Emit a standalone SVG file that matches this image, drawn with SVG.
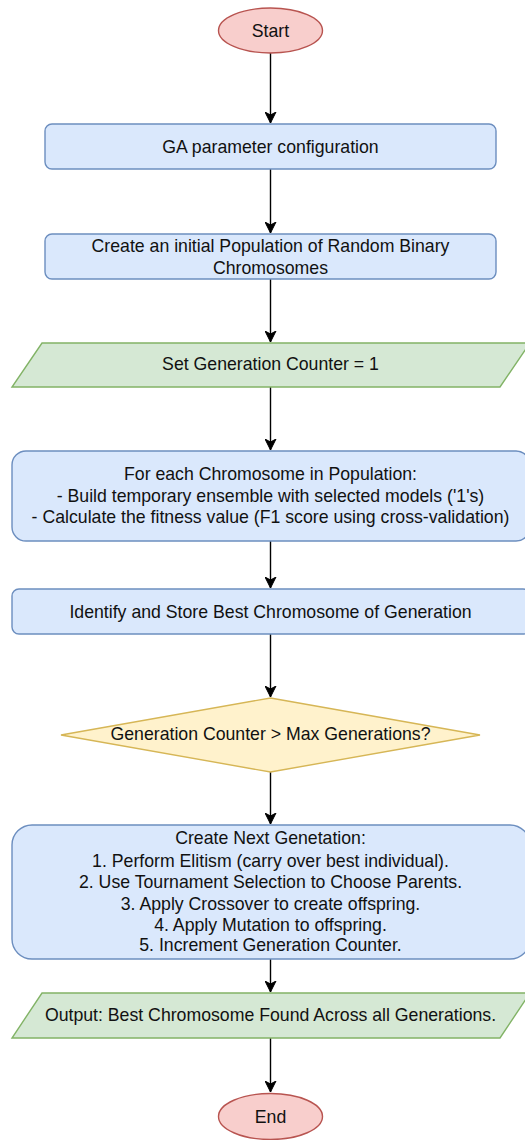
<svg xmlns="http://www.w3.org/2000/svg" width="525" height="1140" viewBox="0 0 525 1140">
  <style>
    text { font-family: "Liberation Sans", Arial, sans-serif; font-size: 17.7px; fill: #111; text-anchor: middle; dominant-baseline: central; }
    .proc { fill: #dae8fc; stroke: #6c8ebf; stroke-width: 1.4; }
    .io { fill: #d5e8d4; stroke: #82b366; stroke-width: 1.4; }
    .dec { fill: #fff2cc; stroke: #d6b656; stroke-width: 1.4; }
    .term { fill: #f8cecc; stroke: #b85450; stroke-width: 1.4; }
    .edge { fill: none; stroke: #000; stroke-width: 1.4; marker-end: url(#arrow); }
  </style>
  <defs>
    <marker id="arrow" viewBox="0 0 12 12" refX="11" refY="6" markerWidth="12" markerHeight="12" markerUnits="userSpaceOnUse" orient="auto">
      <path d="M0,0.5 L11,6 L0,11.5 L3,6 Z" fill="#000" stroke="#000" stroke-width="1"/>
    </marker>
  </defs>
  <rect width="525" height="1140" fill="#fff"/>

  <g id="connectors">
    <path class="edge" d="M270.5,53 V123"/>
    <path class="edge" d="M270.5,169 V233"/>
    <path class="edge" d="M270.5,279 V342"/>
    <path class="edge" d="M270.5,387 V450"/>
    <path class="edge" d="M270.5,541 V588"/>
    <path class="edge" d="M270.5,634 V697"/>
    <path class="edge" d="M270.5,772 V824"/>
    <path class="edge" d="M270.5,959 V992"/>
    <path class="edge" d="M270.5,1038 V1092"/>
  </g>

  <g id="start">
    <ellipse class="term" cx="270.5" cy="30.5" rx="52" ry="22.5"/>
    <text x="270.5" y="30.5">Start</text>
  </g>

  <g id="ga-config">
    <rect class="proc" x="45" y="124" width="451" height="45" rx="7"/>
    <text x="270.5" y="146.5">GA parameter configuration</text>
  </g>

  <g id="init-population">
    <rect class="proc" x="45" y="234" width="451" height="45" rx="7"/>
    <text x="270.5" y="246">Create an initial Population of Random Binary</text>
    <text x="270.5" y="268">Chromosomes</text>
  </g>

  <g id="set-counter">
    <path class="io" d="M42,343 H530 L500,387 H12 Z"/>
    <text x="270.5" y="364">Set Generation Counter = 1</text>
  </g>

  <g id="evaluate">
    <rect class="proc" x="12" y="451" width="518" height="90" rx="14"/>
    <text x="270.5" y="474">For each Chromosome in Population:</text>
    <text x="270.5" y="495.5">- Build temporary ensemble with selected models ('1's)</text>
    <text x="270.5" y="517">- Calculate the fitness value (F1 score using cross-validation)</text>
  </g>

  <g id="store-best">
    <rect class="proc" x="12" y="589" width="518" height="45" rx="7"/>
    <text x="270.5" y="611.5">Identify and Store Best Chromosome of Generation</text>
  </g>

  <g id="check-generations">
    <path class="dec" d="M270.5,698 L480,735 L270.5,772 L61,735 Z"/>
    <text x="270.5" y="734">Generation Counter &gt; Max Generations?</text>
  </g>

  <g id="next-generation">
    <rect class="proc" x="12" y="825" width="518" height="134" rx="20"/>
    <text x="270.5" y="838">Create Next Genetation:</text>
    <text x="270.5" y="861">1. Perform Elitism (carry over best individual).</text>
    <text x="270.5" y="881.5">2. Use Tournament Selection to Choose Parents.</text>
    <text x="270.5" y="904">3. Apply Crossover to create offspring.</text>
    <text x="270.5" y="924.5">4. Apply Mutation to offspring.</text>
    <text x="270.5" y="945">5. Increment Generation Counter.</text>
  </g>

  <g id="output">
    <path class="io" d="M42,993 H530 L500,1038 H12 Z"/>
    <text x="270.5" y="1015">Output: Best Chromosome Found Across all Generations.</text>
  </g>

  <g id="end">
    <ellipse class="term" cx="270.5" cy="1116.5" rx="52" ry="23"/>
    <text x="270.5" y="1116.5">End</text>
  </g>
</svg>
